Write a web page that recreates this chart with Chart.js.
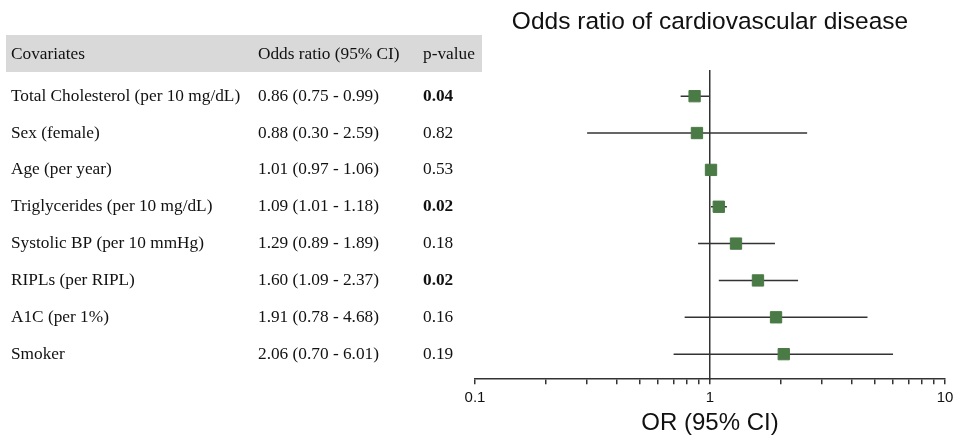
<!DOCTYPE html>
<html>
<head>
<meta charset="utf-8">
<script src="https://cdn.jsdelivr.net/npm/chart.js@4"></script>
<style>
  html, body { margin: 0; padding: 0; background: #fff; }
  #wrap { width: 963px; height: 437px; }
</style>
</head>
<body>
<div id="wrap"><canvas id="forest" width="963" height="437"></canvas></div>
<script>
const covariates = ['Total Cholesterol (per 10 mg/dL)', 'Sex (female)', 'Age (per year)',
  'Triglycerides (per 10 mg/dL)', 'Systolic BP (per 10 mmHg)', 'RIPLs (per RIPL)',
  'A1C (per 1%)', 'Smoker'];
const oddsRatios = [0.86, 0.88, 1.01, 1.09, 1.29, 1.60, 1.91, 2.06];
const ciLower = [0.75, 0.30, 0.97, 1.01, 0.89, 1.09, 0.78, 0.70];
const ciUpper = [0.99, 2.59, 1.06, 1.18, 1.89, 2.37, 4.68, 6.01];
const pValues = ['0.04', '0.82', '0.53', '0.02', '0.18', '0.02', '0.16', '0.19'];
const tickLabels = ['0.1', '1', '10'];

document.addEventListener('DOMContentLoaded', function() {
  const ctx = document.getElementById('forest').getContext('2d');
  const ink = '#333333';
  const green = '#4a7a45';
  const serif = '17.3px "Liberation Serif", "Times New Roman", serif';

  // one dataset per confidence interval, drawn as a short horizontal line
  const ciSets = covariates.map(function(name, i) {
    return {
      type: 'scatter',
      showLine: true,
      data: [{ x: ciLower[i], y: i }, { x: ciUpper[i], y: i }],
      borderColor: ink,
      borderWidth: 1.5,
      pointRadius: 0,
      order: 2
    };
  });

  const pointSet = {
    type: 'scatter',
    data: oddsRatios.map((v, i) => ({ x: v, y: i })),
    pointStyle: 'rect',
    pointRadius: 8,
    backgroundColor: green,
    borderColor: green,
    borderWidth: 1,
    order: 1
  };

  // table on the left, rows aligned with the y scale
  const tablePlugin = {
    id: 'table',
    beforeDraw(chart) {
      const c = chart.ctx;
      const y = chart.scales.y;
      c.save();
      c.fillStyle = '#fff';
      c.fillRect(0, 0, chart.width, chart.height);
      c.fillStyle = '#d9d9d9';
      c.fillRect(6, 35, 476, 37);
      c.fillStyle = '#111';
      c.textBaseline = 'middle';
      c.font = serif;
      c.fillText('Covariates', 11, 54);
      c.fillText('Odds ratio (95% CI)', 258, 54);
      c.fillText('p-value', 423, 54);
      covariates.forEach(function(name, i) {
        const py = y.getPixelForValue(i);
        c.font = serif;
        c.fillText(name, 11, py);
        const txt = oddsRatios[i].toFixed(2) + ' (' + ciLower[i].toFixed(2) + ' - ' + ciUpper[i].toFixed(2) + ')';
        c.fillText(txt, 258, py);
        if (parseFloat(pValues[i]) < 0.05) {
          c.font = 'bold ' + serif;
        }
        c.fillText(pValues[i], 423, py);
      });
      c.restore();
    }
  };

  new Chart(ctx, {
    type: 'scatter',
    data: { datasets: [pointSet].concat(ciSets) },
    options: {
      responsive: false,
      animation: false,
      layout: { padding: { left: 475, right: 18, top: 0, bottom: 0 } },
      plugins: {
        legend: { display: false },
        tooltip: { enabled: false },
        title: {
          display: true,
          text: 'Odds ratio of cardiovascular disease',
          color: '#111',
          font: { family: 'Liberation Sans, Arial, sans-serif', size: 24.5, weight: 'normal' },
          padding: { top: 8, bottom: 33 }
        }
      },
      scales: {
        x: {
          type: 'logarithmic',
          min: 0.1,
          max: 10,
          afterBuildTicks(scale) {
            const vals = [];
            [0.1, 1].forEach(function(d) {
              for (let k = 1; k < 10; k++) vals.push(+(d * k).toPrecision(2));
            });
            vals.push(10);
            scale.ticks = vals.map(v => ({ value: v }));
          },
          ticks: {
            autoSkip: false,
            maxRotation: 0,
            padding: 5,
            color: '#111',
            font: { family: 'Liberation Sans, Arial, sans-serif', size: 15 },
            callback: function(value) {
              const s = String(+value.toPrecision(2));
              return tickLabels.includes(s) ? s : '';
            }
          },
          grid: { display: true, drawOnChartArea: false, drawTicks: true, tickLength: 5, color: ink, lineWidth: 1.5 },
          border: { display: true, color: ink, width: 1.5 },
          title: {
            display: true,
            text: 'OR (95% CI)',
            color: '#111',
            font: { family: 'Liberation Sans, Arial, sans-serif', size: 24, lineHeight: 0.95 },
            padding: { top: 0, bottom: 2 }
          }
        },
        y: {
          type: 'linear',
          reverse: true,
          min: -0.7,
          max: 7.68,
          position: { x: 1 },
          ticks: { display: false },
          grid: { display: false },
          border: { display: true, color: ink, width: 1.5 }
        }
      }
    },
    plugins: [tablePlugin]
  });
});
</script>
</body>
</html>
